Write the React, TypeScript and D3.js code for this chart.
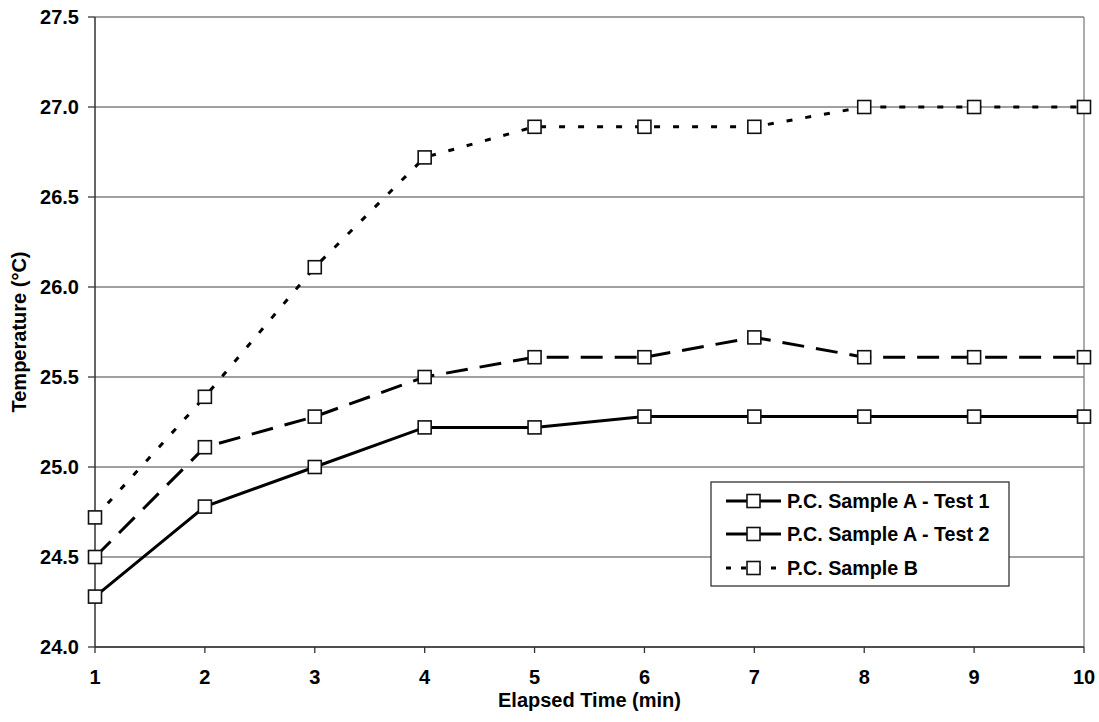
import React from "react";
import * as d3 from "d3";

const times = [1, 2, 3, 4, 5, 6, 7, 8, 9, 10];
const test1 = [24.28, 24.78, 25.0, 25.22, 25.22, 25.28, 25.28, 25.28, 25.28, 25.28];
const test2 = [24.5, 25.11, 25.28, 25.5, 25.61, 25.61, 25.72, 25.61, 25.61, 25.61];
const sampleB = [24.72, 25.39, 26.11, 26.72, 26.89, 26.89, 26.89, 27.0, 27.0, 27.0];
const yTicks = [24.0, 24.5, 25.0, 25.5, 26.0, 26.5, 27.0, 27.5];
const seriesNames = ["P.C. Sample A - Test 1", "P.C. Sample A - Test 2", "P.C. Sample B"];

const W = 1099;
const H = 722;
const M = { left: 95, right: 1084, top: 17, bottom: 647 };
const FONT = "'Liberation Sans', Arial, Helvetica, sans-serif";
const FS = 20;

export default function App() {
  const x = d3.scaleLinear().domain([1, 10]).range([M.left, M.right]);
  const y = d3.scaleLinear().domain([24, 27.5]).range([M.bottom, M.top]);

  const series = [
    { name: seriesNames[0], values: test1, dash: "none" },
    { name: seriesNames[1], values: test2, dash: "22,12" },
    { name: seriesNames[2], values: sampleB, dash: "6,13" },
  ];

  const line = d3
    .line<number>()
    .x((_, i) => x(times[i]))
    .y((d) => y(d));

  const ms = 13;
  const legend = { x0: 711, y0: 482, x1: 1009, y1: 586 };
  const rowY = [501, 534, 568];

  return (
    <svg
      width={W}
      height={H}
      style={{ position: "absolute", left: 0, top: 0, background: "#fff" }}
      fontFamily={FONT}
    >
      <rect x={0} y={0} width={W} height={H} fill="#fff" />
      {yTicks.map((t) => (
        <line
          key={"g" + t}
          x1={M.left}
          x2={M.right}
          y1={y(t)}
          y2={y(t)}
          stroke="#808080"
          strokeWidth={1.3}
        />
      ))}
      <line x1={M.right} x2={M.right} y1={M.top} y2={M.bottom} stroke="#808080" strokeWidth={1.3} />
      <line x1={M.left} x2={M.left} y1={M.top} y2={M.bottom} stroke="#333" strokeWidth={1.5} />
      {yTicks.map((t) => (
        <g key={"yt" + t}>
          <line x1={M.left - 7} x2={M.left} y1={y(t)} y2={y(t)} stroke="#333" strokeWidth={1.3} />
          <text
            x={79}
            y={y(t)}
            dy="0.36em"
            textAnchor="end"
            fontSize={FS}
            fontWeight="bold"
            fill="#000"
          >
            {t.toFixed(1)}
          </text>
        </g>
      ))}
      <line x1={M.left} x2={M.right} y1={M.bottom} y2={M.bottom} stroke="#333" strokeWidth={1.5} />
      {times.map((t) => (
        <g key={"xt" + t}>
          <line x1={x(t)} x2={x(t)} y1={M.bottom} y2={M.bottom + 6} stroke="#333" strokeWidth={1.3} />
          <text x={x(t)} y={684} textAnchor="middle" fontSize={FS} fontWeight="bold" fill="#000">
            {t}
          </text>
        </g>
      ))}
      <text
        x={(M.left + M.right) / 2}
        y={707}
        textAnchor="middle"
        fontSize={FS}
        fontWeight="bold"
        fill="#000"
      >
        Elapsed Time (min)
      </text>
      <text
        transform={`translate(26,${(M.top + M.bottom) / 2}) rotate(-90)`}
        textAnchor="middle"
        fontSize={FS}
        fontWeight="bold"
        fill="#000"
      >
        Temperature (°C)
      </text>

      {series.map((s) => (
        <g key={s.name}>
          <path
            d={line(s.values) || ""}
            fill="none"
            stroke="#000"
            strokeWidth={3}
            strokeDasharray={s.dash}
          />
          {s.values.map((v, i) => (
            <rect
              key={i}
              x={x(times[i]) - ms / 2}
              y={y(v) - ms / 2}
              width={ms}
              height={ms}
              fill="#fff"
              stroke="#111"
              strokeWidth={1.6}
            />
          ))}
        </g>
      ))}

      <rect
        x={legend.x0}
        y={legend.y0}
        width={legend.x1 - legend.x0}
        height={legend.y1 - legend.y0}
        fill="#fff"
        stroke="#333"
        strokeWidth={1.3}
      />
      {series.map((s, i) => (
        <g key={"lg" + i}>
          <line
            x1={726}
            x2={781}
            y1={rowY[i]}
            y2={rowY[i]}
            stroke="#000"
            strokeWidth={3}
            strokeDasharray={s.dash === "none" ? "none" : i === 1 ? "22,12" : "5,10"}
          />
          <rect
            x={753.5 - ms / 2}
            y={rowY[i] - ms / 2}
            width={ms}
            height={ms}
            fill="#fff"
            stroke="#111"
            strokeWidth={1.6}
          />
          <text x={787} y={rowY[i]} dy="0.36em" fontSize={19.7} fontWeight="bold" fill="#000">
            {s.name}
          </text>
        </g>
      ))}
    </svg>
  );
}
